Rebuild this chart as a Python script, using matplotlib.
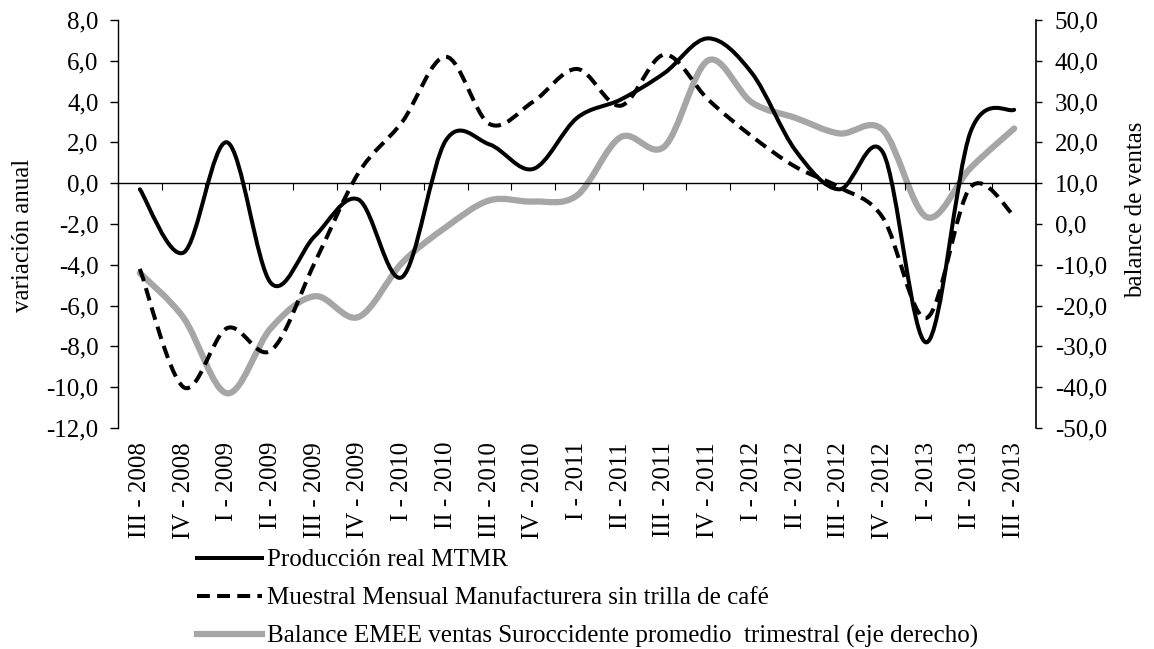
import numpy as np
import matplotlib
matplotlib.use("Agg")
import matplotlib.pyplot as plt
from matplotlib.path import Path
from matplotlib.patches import PathPatch
from matplotlib.lines import Line2D
from matplotlib.ticker import FuncFormatter

plt.rcParams['font.family'] = ['Liberation Serif', 'DejaVu Serif']

# quarters III-2008 .. III-2013
quarters = ["III - 2008", "IV - 2008", "I - 2009", "II - 2009", "III - 2009", "IV - 2009",
            "I - 2010", "II - 2010", "III - 2010", "IV - 2010", "I - 2011", "II - 2011",
            "III - 2011", "IV - 2011", "I - 2012", "II - 2012", "III - 2012", "IV - 2012",
            "I - 2013", "II - 2013", "III - 2013"]

# annual variation (left axis)
produccion_mtmr = [-0.3, -3.4, 2.0, -4.9, -2.6, -0.8, -4.6, 2.1, 1.9, 0.7, 3.2,
                   4.1, 5.4, 7.1, 5.4, 1.6, -0.3, 1.5, -7.8, 2.5, 3.6]
muestra_mensual = [-4.2, -10.0, -7.1, -8.2, -3.9, 0.5, 3.0, 6.2, 2.9, 4.0, 5.6,
                   3.8, 6.3, 4.1, 2.3, 0.8, -0.2, -1.7, -6.6, -0.2, -1.6]
# sales balance (right axis)
balance_emee = [-12.0, -23.0, -41.5, -25.5, -17.7, -22.8, -9.5, -0.8, 5.8, 5.5, 7.0,
                21.3, 19.0, 40.1, 29.8, 26.0, 22.2, 23.0, 1.7, 13.7, 23.4]

labels = ["Producción real MTMR",
          "Muestral Mensual Manufacturera sin trilla de café",
          "Balance EMEE ventas Suroccidente promedio  trimestral (eje derecho)"]

FS = 18
GRAY = "#a6a6a6"


def smooth_path(x, y):
    """Excel-like smoothed line: Catmull-Rom segments as cubic Bezier curves."""
    p = np.column_stack([x, y]).astype(float)
    n = len(p)
    verts = [p[0]]
    codes = [Path.MOVETO]
    for i in range(n - 1):
        p0 = p[max(i - 1, 0)]
        p1 = p[i]
        p2 = p[i + 1]
        p3 = p[min(i + 2, n - 1)]
        verts += [p1 + (p2 - p0) / 6.0, p2 - (p3 - p1) / 6.0, p2]
        codes += [Path.CURVE4] * 3
    return Path(verts, codes)


def comma_fmt(v, pos):
    return f"{v:.1f}".replace(".", ",")


fig = plt.figure(figsize=(11.54, 6.49), dpi=100)
ax = fig.add_axes([118 / 1154, 1 - 428 / 649, 918 / 1154, 408 / 649])
ax2 = ax.twinx()
ax.set_zorder(ax2.get_zorder() + 1)
ax.patch.set_visible(False)

x = np.arange(len(quarters))

ax2.add_patch(PathPatch(smooth_path(x, balance_emee), fill=False, edgecolor=GRAY,
                        linewidth=4.5, capstyle='round', joinstyle='round'))
ax.add_patch(PathPatch(smooth_path(x, muestra_mensual), fill=False, edgecolor='black',
                       linewidth=2.9, linestyle=(0, (3.2, 1.8))))
ax.add_patch(PathPatch(smooth_path(x, produccion_mtmr), fill=False, edgecolor='black',
                       linewidth=2.9, capstyle='round', joinstyle='round'))

ax.set_xlim(-0.5, len(quarters) - 0.5)
ax.set_ylim(-12, 8)
ax2.set_ylim(-50, 50)
ax.set_yticks(np.arange(-12, 9, 2))
ax2.set_yticks(np.arange(-50, 51, 10))
ax.yaxis.set_major_formatter(FuncFormatter(comma_fmt))
ax2.yaxis.set_major_formatter(FuncFormatter(comma_fmt))

ax.set_xticks(x)
ax.set_xticklabels(quarters, rotation=90, fontsize=FS)
ax.tick_params(axis='x', length=0, pad=10)
ax.tick_params(axis='y', labelsize=FS, length=6, width=1, pad=8)
ax2.tick_params(axis='y', labelsize=FS, length=4.5, width=1, pad=9)

for a in (ax, ax2):
    a.spines['top'].set_visible(False)
    a.spines['bottom'].set_visible(False)
ax2.spines['left'].set_visible(False)
ax.spines['right'].set_visible(False)
ax.spines['left'].set_linewidth(1.0)
ax2.spines['right'].set_linewidth(1.2)

# zero line with category separators
sec = ax.secondary_xaxis(0, transform=ax.transData)
sec.set_xticks(np.arange(-0.5, len(quarters), 1.0))
sec.set_xticklabels([])
sec.tick_params(axis='x', length=5, width=0.8, direction='out')
sec.spines['bottom'].set_linewidth(1.0)

ax.set_ylabel("variación anual", fontsize=FS)
ax.yaxis.set_label_coords(-0.0915, 0.473)
ax2.set_ylabel("balance de ventas", fontsize=FS, rotation=90)
ax2.yaxis.set_label_coords(1.097, 0.534)

handles = [Line2D([], [], color='black', lw=2.9),
           Line2D([], [], color='black', lw=2.9, linestyle=(0, (3.2, 1.8))),
           Line2D([], [], color=GRAY, lw=4.5)]
fig.legend(handles, labels, loc='upper left', bbox_to_anchor=(197 / 1154, 1 - 549 / 649),
           frameon=False, fontsize=FS, handlelength=2.6, handletextpad=0.2,
           borderpad=0, borderaxespad=0, labelspacing=0.62)

fig.savefig("out.png", dpi=100)
